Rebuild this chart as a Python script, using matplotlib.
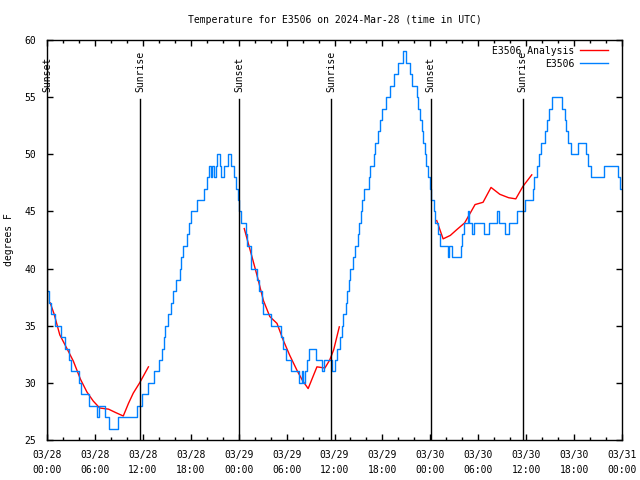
import matplotlib
matplotlib.use('Agg')
import matplotlib.pyplot as plt
import matplotlib.transforms as mtransforms
from matplotlib.ticker import MultipleLocator, FixedLocator

plt.rcParams['font.family'] = 'DejaVu Sans Mono'
plt.rcParams['font.size'] = 7

# hours after 2024-03-28 00:00 UTC at which the reading changes, and the new value (deg F)
obs_hours = [0.0, 0.3, 0.5, 1.0, 1.8, 2.3, 2.7, 3.0, 4.0, 4.3, 5.3, 6.3, 6.5, 7.3, 7.8,
             8.9, 11.3, 11.9, 12.7, 13.4, 14.0, 14.4, 14.6, 14.8, 15.2, 15.5, 15.8, 16.1,
             16.6, 16.8, 17.0, 17.5, 17.8, 18.0, 18.8, 19.6, 20.0, 20.3, 20.5, 20.7, 20.9,
             21.1, 21.3, 21.6, 21.8, 22.2, 22.7, 23.1, 23.4, 23.7, 23.9, 24.1, 24.3, 24.9,
             25.1, 25.5, 25.6, 26.3, 26.5, 26.9, 27.1, 28.0, 29.3, 29.6, 29.9, 30.5, 31.5,
             31.9, 32.0, 32.3, 32.6, 32.8, 33.7, 34.4, 34.7, 35.7, 36.1, 36.3, 36.7, 36.9,
             37.1, 37.4, 37.6, 37.8, 38.0, 38.3, 38.6, 38.9, 39.1, 39.3, 39.5, 39.7, 40.3,
             40.5, 40.9, 41.1, 41.4, 41.7, 41.9, 42.4, 43.0, 43.5, 44.0, 44.6, 45.0, 45.4,
             45.7, 46.3, 46.5, 46.7, 46.9, 47.1, 47.3, 47.5, 47.7, 47.9, 48.1, 48.4, 48.6,
             48.9, 49.2, 50.2, 50.4, 50.7, 51.8, 52.0, 52.2, 52.7, 52.9, 53.2, 53.5, 54.7,
             55.3, 56.4, 56.6, 57.4, 57.9, 58.9, 59.8, 60.8, 61.0, 61.3, 61.6, 61.9, 62.3,
             62.6, 62.9, 63.2, 64.5, 64.8, 65.0, 65.3, 65.6, 66.5, 67.5, 67.7, 68.1, 69.8,
             71.5, 71.7, 72.0]
obs_temp = [38, 37, 36, 35, 34, 33, 32, 31, 30, 29, 28, 27, 28, 27, 26,
            27, 28, 29, 30, 31, 32, 33, 34, 35, 36, 37, 38, 39,
            40, 41, 42, 43, 44, 45, 46, 47, 48, 49, 48, 49, 48,
            49, 50, 49, 48, 49, 50, 49, 48, 47, 46, 45, 44, 43,
            42, 41, 40, 39, 38, 37, 36, 35, 34, 33, 32, 31, 30,
            31, 30, 31, 32, 33, 32, 31, 32, 31, 32, 33, 34, 35,
            36, 37, 38, 39, 40, 41, 42, 43, 44, 45, 46, 47, 48,
            49, 50, 51, 52, 53, 54, 55, 56, 57, 58, 59, 58, 57,
            56, 55, 54, 53, 52, 51, 50, 49, 48, 47, 46, 45, 44,
            43, 42, 41, 42, 41, 42, 43, 44, 45, 44, 43, 44, 43,
            44, 45, 44, 43, 44, 45, 46, 47, 48, 49, 50, 51, 52,
            53, 54, 55, 54, 53, 52, 51, 50, 51, 50, 49, 48, 49,
            48, 47, 47]

# analysis curve, one piece per night
ana_hours_1 = [0.4, 0.9, 1.6, 2.5, 3.3, 4.2, 5.0, 5.8, 6.6, 7.7, 8.6, 9.55, 10.2, 10.8, 11.6, 12.7]
ana_temp_1 = [37.0, 36.0, 34.2, 33.0, 31.9, 30.3, 29.2, 28.4, 27.8, 27.7, 27.4, 27.1, 28.2, 29.1, 30.0, 31.4]
ana_hours_2 = [24.7, 25.6, 26.3, 27.1, 27.9, 28.8, 29.6, 30.4, 31.3, 32.0, 32.7, 33.8, 34.8, 35.4, 35.9, 36.6]
ana_temp_2 = [43.5, 41.2, 39.4, 37.2, 35.8, 35.2, 33.7, 32.4, 31.1, 30.2, 29.5, 31.4, 31.3, 32.0, 32.9, 34.9]
ana_hours_3 = [48.8, 49.6, 50.5, 51.3, 52.3, 53.6, 54.6, 55.6, 56.7, 57.8, 58.7, 59.6, 60.7]
ana_temp_3 = [44.2, 42.6, 42.9, 43.4, 44.0, 45.6, 45.8, 47.1, 46.5, 46.2, 46.1, 47.2, 48.2]

sun_hours = [0.0, 11.65, 24.03, 35.55, 48.06, 59.58]
sun_labels = ['Sunset', 'Sunrise', 'Sunset', 'Sunrise', 'Sunset', 'Sunrise']

xtick_hours = [0, 6, 12, 18, 24, 30, 36, 42, 48, 54, 60, 66, 72]
xtick_labels = ['03/28\n00:00', '03/28\n06:00', '03/28\n12:00', '03/28\n18:00',
                '03/29\n00:00', '03/29\n06:00', '03/29\n12:00', '03/29\n18:00',
                '03/30\n00:00', '03/30\n06:00', '03/30\n12:00', '03/30\n18:00',
                '03/31\n00:00']

fig = plt.figure(figsize=(6.4, 4.8), dpi=100)
ax = fig.add_axes([47 / 640, 40 / 480, 575 / 640, 400 / 480])

red_line = None
for hh, tt in [(ana_hours_1, ana_temp_1), (ana_hours_2, ana_temp_2), (ana_hours_3, ana_temp_3)]:
    red_line, = ax.plot(hh, tt, color='#ff0000', lw=1)
blue_line, = ax.plot(obs_hours, obs_temp, color='#0080ff', lw=1, drawstyle='steps-post')

trans = mtransforms.blended_transform_factory(ax.transData, ax.transAxes)
for h, lab in zip(sun_hours, sun_labels):
    ax.axvline(h, ymin=0, ymax=0.8525, color='black', lw=1)
    ax.text(h, 0.87, lab, transform=trans, rotation=90, ha='center', va='bottom')

ax.set_xlim(0, 72)
ax.set_ylim(25, 60)
ax.xaxis.set_major_locator(FixedLocator(xtick_hours))
ax.set_xticklabels(xtick_labels, linespacing=1.6)
ax.xaxis.set_minor_locator(MultipleLocator(2))
ax.yaxis.set_major_locator(MultipleLocator(5))
ax.tick_params(which='both', direction='in', top=True, right=True, width=1)
ax.tick_params(which='major', length=4)
ax.tick_params(which='minor', length=2)
ax.tick_params(axis='x', pad=7)
ax.tick_params(axis='y', pad=8)
for sp in ax.spines.values():
    sp.set_linewidth(1)

ax.set_title('Temperature for E3506 on 2024-Mar-28 (time in UTC)', fontsize=7, pad=12)
ax.set_ylabel('degrees F')
ax.yaxis.set_label_coords(-0.057, 0.5)

ax.legend([red_line, blue_line], ['E3506 Analysis', 'E3506'], loc='upper right',
          bbox_to_anchor=(0.983, 0.995), borderaxespad=0, frameon=False,
          markerfirst=False, handlelength=2.9, handletextpad=0.6, labelspacing=0.3)

fig.savefig('out.png', dpi=100)
